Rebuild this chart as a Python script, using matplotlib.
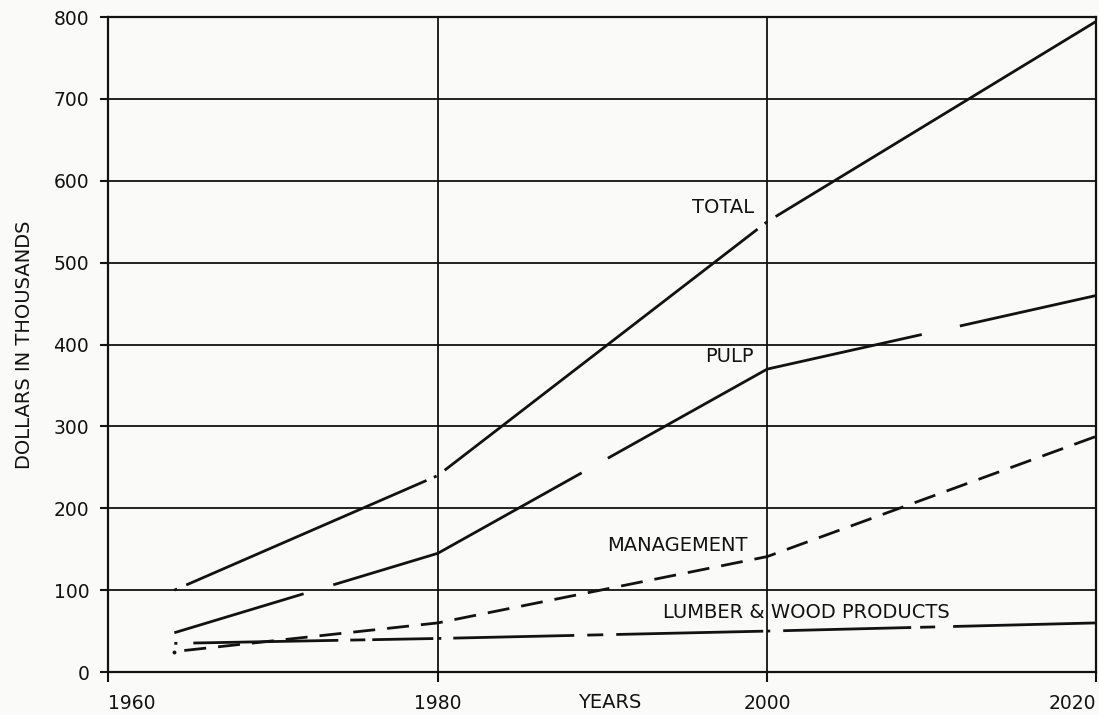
import matplotlib
matplotlib.use("Agg")
import matplotlib.pyplot as plt

# Projected dollar values (thousands) by industry group
years = [1964, 1980, 2000, 2020]
total = [100, 240, 550, 795]
pulp = [48, 145, 370, 460]
management = [25, 60, 141, 288]
lumber = [35, 41, 50, 60]

x_ticks = [1960, 1980, 2000, 2020]
y_ticks = [0, 100, 200, 300, 400, 500, 600, 700, 800]

INK = "#121212"
PAPER = "#fafaf8"

# dash patterns are written in pixels and converted to points (dpi 100)
plt.rcParams["lines.scale_dashes"] = False
plt.rcParams["font.family"] = "DejaVu Sans"


def px(seq):
    return [v * 0.72 for v in seq]


total_dash = px([3, 10, 262, 8, 3, 10, 395, 9, 3, 10, 600, 10])
pulp_dash = px([135, 31, 274, 30, 341, 39, 300, 30])
mgmt_dash = px([22, 12])
lumber_dash = px([3, 16, 145, 12, 15, 7, 61, 5, 3, 12, 121, 13, 16, 13,
                  147, 4, 3, 13, 128, 9, 15, 18, 200, 10])

fig = plt.figure(figsize=(10.99, 7.15), dpi=100, facecolor=PAPER)
ax = fig.add_axes([0.0987, 0.0601, 0.899, 0.916], facecolor=PAPER)

ax.set_xlim(1960, 2020)
ax.set_ylim(0, 800)
ax.set_xticks(x_ticks)
ax.set_yticks(y_ticks)
ax.grid(True, color=INK, lw=1.3)
ax.set_axisbelow(True)
for side in ax.spines.values():
    side.set_color(INK)
    side.set_linewidth(1.6)

ax.tick_params(axis="both", direction="out", colors=INK, labelcolor=INK,
               labelsize=13.5, width=1.5)
ax.tick_params(axis="x", length=7, pad=9)
ax.tick_params(axis="y", length=5.8, pad=8)

xlabels = ax.get_xticklabels()
xlabels[0].set_ha("left")
xlabels[-1].set_ha("right")

lw = 2.0
ax.plot(years, total, color=INK, lw=lw, ls=(0, total_dash))
ax.plot(years, pulp, color=INK, lw=lw, ls=(0, pulp_dash))
ax.plot(years, management, color=INK, lw=lw, ls=(24 * 0.72, mgmt_dash),
        marker="o", markevery=[0], markersize=2.8, markeredgewidth=0)
ax.plot(years, lumber, color=INK, lw=lw, ls=(0, lumber_dash))

label_kw = dict(fontsize=14, color=INK, va="center")
ax.text(1999.2, 567, "TOTAL", ha="right", **label_kw)
ax.text(1999.2, 385, "PULP", ha="right", **label_kw)
ax.text(1998.8, 155, "MANAGEMENT", ha="right", **label_kw)
ax.text(2002.4, 73, "LUMBER & WOOD PRODUCTS", ha="center", **label_kw)

ax.set_xlabel("YEARS", fontsize=14, color=INK)
ax.xaxis.set_label_coords(0.5076, -0.0458)
ax.xaxis.label.set_va("center")

ax.set_ylabel("DOLLARS IN THOUSANDS", fontsize=14, color=INK)
ax.yaxis.set_label_coords(-0.085, 0.5)
ax.yaxis.label.set_va("center")

fig.savefig("out.png", dpi=100, facecolor=PAPER)
